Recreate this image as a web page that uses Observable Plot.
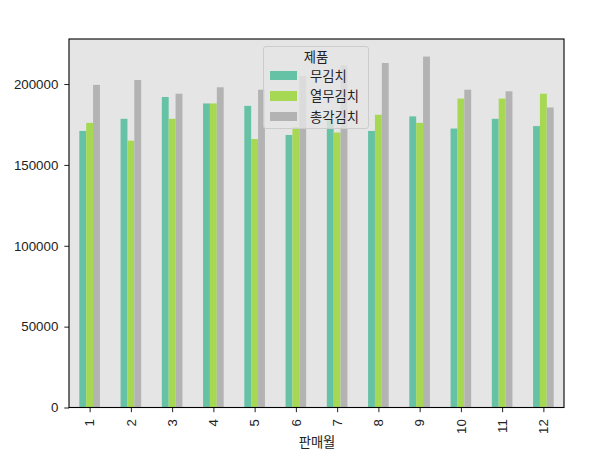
<!DOCTYPE html>
<html>
<head>
<meta charset="utf-8">
<script src="https://cdn.jsdelivr.net/npm/d3@7"></script>
<script src="https://cdn.jsdelivr.net/npm/@observablehq/plot@0.6"></script>
<style>
  html, body { margin: 0; padding: 0; background: #fff; }
  #wrap { position: relative; width: 615px; height: 450px; font-family: "Noto Sans CJK KR", "Noto Sans", sans-serif; }
  #legend {
    position: absolute; left: 263px; top: 46px; width: 104px; height: 81px;
    background: rgba(229,229,229,0.8); border: 1px solid #cccccc; border-radius: 3px;
    font-size: 13.3px; color: #222; box-sizing: content-box;
  }
  #legend .title { text-align: center; margin-top: 1px; line-height: 17px; }
  #legend .row { display: flex; align-items: center; height: 20.5px; }
  #legend .sw { width: 27px; height: 9.5px; margin-left: 6px; margin-right: 13px; }
</style>
</head>
<body>
<div id="wrap"></div>
<script>
const months = [1, 2, 3, 4, 5, 6, 7, 8, 9, 10, 11, 12];
const products = ["무김치", "열무김치", "총각김치"];
const colors = ["#66c2a5", "#a6d854", "#b3b3b3"];
const mu = [171000, 178500, 192000, 188000, 186500, 168500, 178500, 171000, 180000, 172500, 178500, 174000];
const yeolmu = [176000, 165000, 178500, 188000, 166000, 173500, 170000, 181000, 176000, 191000, 191000, 194000];
const chonggak = [199500, 202500, 194000, 198000, 196500, 205000, 211500, 213000, 217000, 196500, 195500, 185500];
const yTicks = [0, 50000, 100000, 150000, 200000];
const xLabel = "판매월";
const legendTitle = "제품";

const series = [mu, yeolmu, chonggak];
const data = [];
months.forEach((m, i) => products.forEach((p, j) => data.push({month: m, product: p, value: series[j][i]})));

const W = 615, H = 450, mL = 69, mR = 51, mT = 39, mB = 42.5;
const yMax = d3.max(data, d => d.value) * 1.05;

const chart = Plot.plot({
  width: W, height: H,
  marginLeft: mL, marginRight: mR, marginTop: mT, marginBottom: mB,
  style: {fontFamily: '"Liberation Sans", "Noto Sans CJK KR", sans-serif', fontSize: "13.3px", color: "#222", background: "transparent", overflow: "visible"},
  fx: {domain: months, padding: 0, round: false, axis: "bottom", tickRotate: -90, tickSize: 4.7, tickPadding: 6.5, label: xLabel, labelAnchor: "center", labelOffset: 39},
  x: {domain: products, paddingInner: 0, paddingOuter: 1.5, round: false, axis: null},
  y: {domain: [0, yMax], ticks: yTicks, tickFormat: d => String(d), tickSize: 4.7, tickPadding: 6.5, label: null},
  color: {domain: products, range: colors},
  marks: [
    Plot.barY(data, {fx: "month", x: "product", y: "value", fill: "product", inset: 0})
  ]
});

// background panel and spines derived from layout
const svg = d3.select(chart);
svg.insert("rect", ":first-child")
  .attr("x", mL).attr("y", mT).attr("width", W - mL - mR).attr("height", H - mT - mB)
  .attr("fill", "#e5e5e5");
svg.append("rect")
  .attr("x", mL).attr("y", mT).attr("width", W - mL - mR).attr("height", H - mT - mB)
  .attr("fill", "none").attr("stroke", "#000").attr("stroke-width", 1.1);

const wrap = document.getElementById("wrap");
wrap.appendChild(chart);

const lg = document.createElement("div");
lg.id = "legend";
let html = `<div class="title">${legendTitle}</div>`;
products.forEach((p, i) => { html += `<div class="row"><span class="sw" style="background:${colors[i]}"></span><span>${p}</span></div>`; });
lg.innerHTML = html;
wrap.appendChild(lg);
</script>
</body>
</html>
